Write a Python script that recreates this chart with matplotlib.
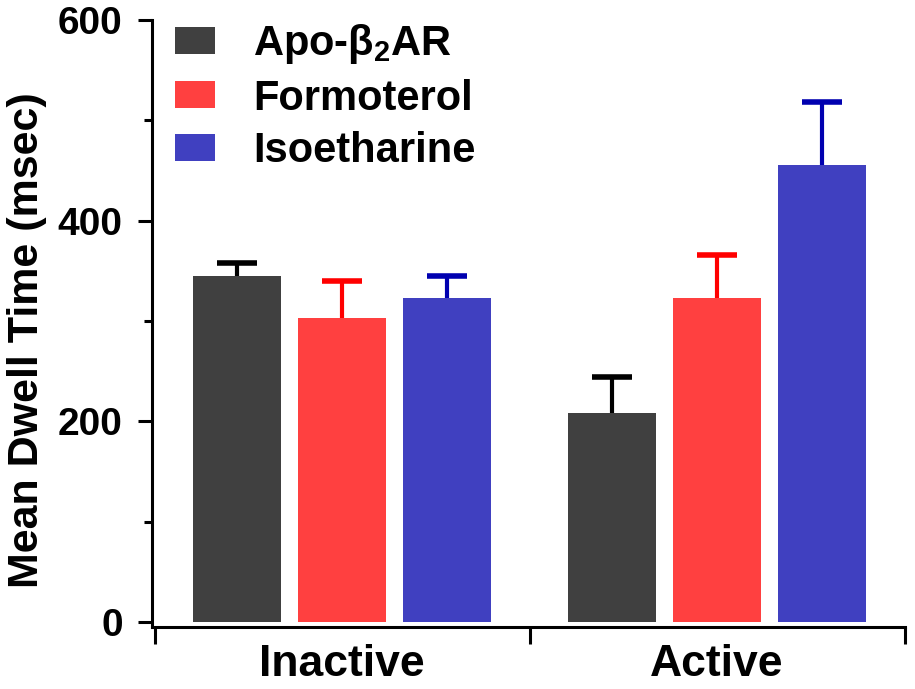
import matplotlib
matplotlib.use("Agg")
import numpy as np
import matplotlib.pyplot as plt
from matplotlib.patches import Patch

plt.rcParams['font.family'] = ['Liberation Sans', 'DejaVu Sans']
plt.rcParams['font.weight'] = 'bold'
plt.rcParams['axes.labelweight'] = 'bold'
plt.rcParams['mathtext.fontset'] = 'custom'
plt.rcParams['mathtext.rm'] = 'Liberation Sans:bold'
plt.rcParams['mathtext.it'] = 'Liberation Sans:bold'
plt.rcParams['mathtext.bf'] = 'Liberation Sans:bold'

groups = ['Inactive', 'Active']
series = ['Apo-β$_2$AR', 'Formoterol', 'Isoetharine']
means = {
    'Apo-β$_2$AR': [345, 208],
    'Formoterol': [303, 323],
    'Isoetharine': [323, 455],
}
sems = {
    'Apo-β$_2$AR': [13, 36],
    'Formoterol': [37, 43],
    'Isoetharine': [22, 63],
}
bar_colors = ['#404040', '#ff4040', '#4040c0']
err_colors = ['#000000', '#ff0000', '#0000b0']

fig = plt.figure(figsize=(9.15, 6.89), dpi=100)
ax = fig.add_axes([152/915, 1 - 627/689, (905-152)/915, (627-20)/689])

x = np.arange(len(groups))
offset = 0.28
width = 0.235
cap = 0.053
for i, name in enumerate(series):
    xi = x + (i - 1) * offset
    m = np.array(means[name])
    e = np.array(sems[name])
    ax.bar(xi, m, width, color=bar_colors[i], zorder=2)
    ax.vlines(xi, m, m + e, color=err_colors[i], lw=3, zorder=1)
    ax.hlines(m + e, xi - cap, xi + cap, color=err_colors[i], lw=4, zorder=1)

ax.set_xlim(-0.507, 1.501)
ax.set_ylim(-5, 600)
ax.spines['top'].set_visible(False)
ax.spines['right'].set_visible(False)
for s in ['left', 'bottom']:
    ax.spines[s].set_linewidth(2.2)

ax.set_yticks([0, 200, 400, 600])
ax.set_yticks([100, 300, 500], minor=True)
ax.tick_params(axis='y', which='major', length=10, width=2.2, labelsize=28, pad=11)
ax.tick_params(axis='y', which='minor', length=6, width=2.2)

ax.set_xticks([-0.5, 0.5, 1.5])
ax.set_xticklabels([])
ax.set_xticks(x, minor=True)
ax.set_xticklabels(groups, minor=True, fontsize=32)
ax.tick_params(axis='x', which='major', length=12, width=2.2, direction='out')
ax.tick_params(axis='x', which='minor', length=0, pad=12)

ax.set_ylabel('Mean Dwell Time (msec)', fontsize=31, va='center')
ax.yaxis.set_label_coords(-0.166, 0.473)

handles = [Patch(facecolor=c) for c in bar_colors]
ax.legend(handles, series, loc='upper left', bbox_to_anchor=(175/915, 1 - 22/689),
          bbox_transform=fig.transFigure, frameon=False, fontsize=30,
          handlelength=0.96, handleheight=0.62, handletextpad=0.91,
          labelspacing=0.3, borderpad=0, borderaxespad=0)

fig.savefig('out.png', dpi=100)
